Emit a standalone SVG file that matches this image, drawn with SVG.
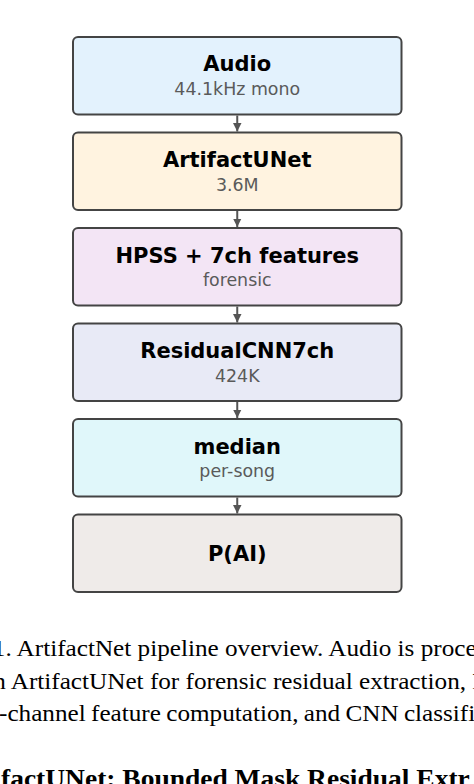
<svg xmlns="http://www.w3.org/2000/svg" width="474" height="784" viewBox="0 0 474 784">
<defs>
<marker id="ah" markerUnits="userSpaceOnUse" markerWidth="9" markerHeight="9" refX="8.5" refY="4.25" orient="auto">
<path d="M0,0 L8.5,4.25 L0,8.5 z" fill="#555555"/>
</marker>
<style>
.box{stroke:#444444;stroke-width:2}
.t{font-family:"DejaVu Sans",sans-serif;font-weight:bold;font-size:21px;fill:#000000;text-anchor:middle}
.s{font-family:"DejaVu Sans",sans-serif;font-size:17.4px;fill:#5a5a5a;text-anchor:middle}
.cap{font-family:"Liberation Serif","Times New Roman",serif;font-size:25.2px;fill:#000000}
.capb{font-family:"Liberation Serif","Times New Roman",serif;font-size:27.5px;font-weight:bold;fill:#000000}
.edge{stroke:#555555;stroke-width:2;fill:none}
</style>
</defs>
<rect width="474" height="784" fill="#ffffff"/>
<g id="audio">
<rect class="box" x="73" y="37" width="328.5" height="77.5" rx="5" fill="#E3F2FD"/>
<text class="t" x="237.25" y="71">Audio</text>
<text class="s" x="237.25" y="95">44.1kHz mono</text>
</g>
<g id="artifactunet">
<rect class="box" x="73" y="132.5" width="328.5" height="77.5" rx="5" fill="#FFF3E0"/>
<text class="t" x="237.25" y="167">ArtifactUNet</text>
<text class="s" x="237.25" y="190.5">3.6M</text>
</g>
<g id="hpss">
<rect class="box" x="73" y="228" width="328.5" height="77.5" rx="5" fill="#F3E5F5"/>
<text class="t" x="237.25" y="262.5">HPSS + 7ch features</text>
<text class="s" x="237.25" y="286">forensic</text>
</g>
<g id="residualcnn">
<rect class="box" x="73" y="323.5" width="328.5" height="77.5" rx="5" fill="#E8EAF6"/>
<text class="t" x="237.25" y="358">ResidualCNN7ch</text>
<text class="s" x="237.25" y="381.5">424K</text>
</g>
<g id="median">
<rect class="box" x="73" y="419" width="328.5" height="77.5" rx="5" fill="#E0F7FA"/>
<text class="t" x="237.25" y="453.5">median</text>
<text class="s" x="237.25" y="477">per-song</text>
</g>
<g id="pai">
<rect class="box" x="73" y="514.5" width="328.5" height="77.5" rx="5" fill="#EFEBE9"/>
<text class="t" x="237.25" y="560.5">P(AI)</text>
</g>
<g id="connectors">
<line class="edge" x1="237.25" y1="115.5" x2="237.25" y2="131.5" marker-end="url(#ah)"/>
<line class="edge" x1="237.25" y1="211" x2="237.25" y2="227" marker-end="url(#ah)"/>
<line class="edge" x1="237.25" y1="306.5" x2="237.25" y2="322.5" marker-end="url(#ah)"/>
<line class="edge" x1="237.25" y1="402" x2="237.25" y2="418" marker-end="url(#ah)"/>
<line class="edge" x1="237.25" y1="497.5" x2="237.25" y2="513.5" marker-end="url(#ah)"/>
</g>
<g id="caption">
<text class="cap" transform="translate(-7.2,655.7) scale(1,0.92)">1. ArtifactNet pipeline overview. Audio is proce</text>
<text class="cap" transform="translate(-6.8,688.5) scale(1,0.92)">n ArtifactUNet for forensic residual extraction, H</text>
<text class="cap" transform="translate(-1,720.5) scale(1,0.92)" word-spacing="-1">-channel feature computation, and CNN classifi</text>
<text class="capb" transform="translate(1,787) scale(1,0.92)">factUNet: Bounded Mask Residual Extr</text>
</g>
</svg>
